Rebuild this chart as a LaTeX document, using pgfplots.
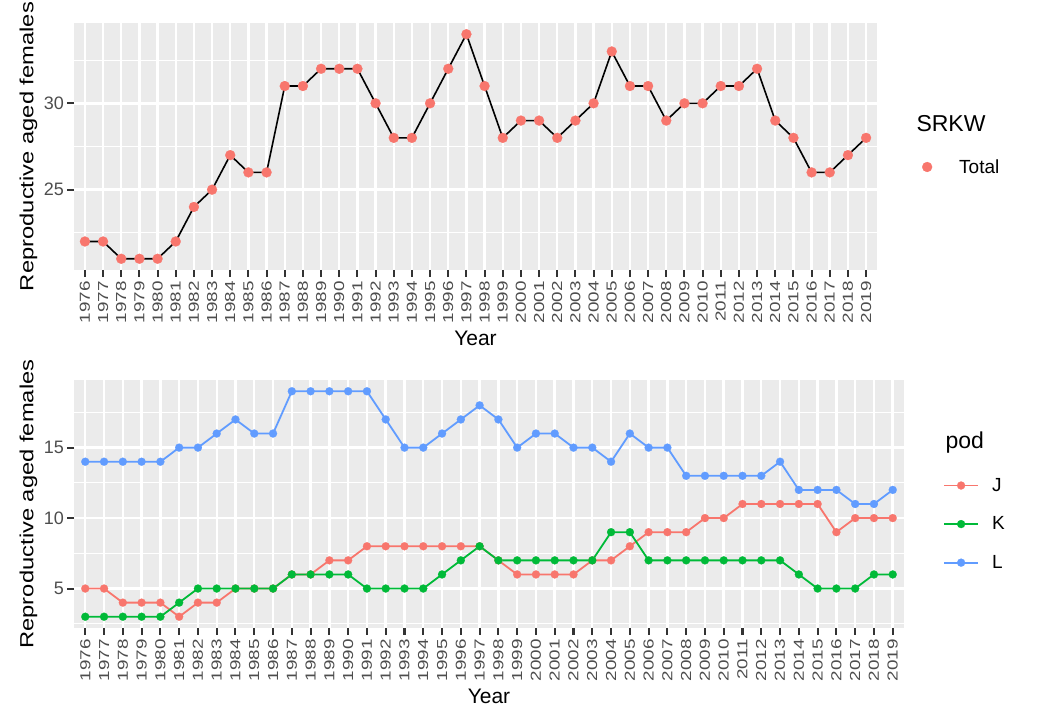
\documentclass[border=0pt]{standalone}
\usepackage{pgfplots}
\usepackage{pgfplotstable}
\pgfplotsset{compat=1.18}
\usepackage{fontspec}
\setmainfont{Liberation Sans}
\newfontfamily\stretchfont[FakeStretch=1.3]{Liberation Sans}
\newfontfamily\labfont[FakeStretch=1.25]{Liberation Sans}
\definecolor{gJ}{HTML}{F8766D}
\definecolor{gK}{HTML}{00BA38}
\definecolor{gL}{HTML}{619CFF}
\definecolor{panel}{HTML}{EBEBEB}
\definecolor{ticklab}{HTML}{4D4D4D}
\definecolor{tickc}{HTML}{333333}

\pgfplotstableread{
year total J K L
1976 22 5 3 14
1977 22 5 3 14
1978 21 4 3 14
1979 21 4 3 14
1980 21 4 3 14
1981 22 3 4 15
1982 24 4 5 15
1983 25 4 5 16
1984 27 5 5 17
1985 26 5 5 16
1986 26 5 5 16
1987 31 6 6 19
1988 31 6 6 19
1989 32 7 6 19
1990 32 7 6 19
1991 32 8 5 19
1992 30 8 5 17
1993 28 8 5 15
1994 28 8 5 15
1995 30 8 6 16
1996 32 8 7 17
1997 34 8 8 18
1998 31 7 7 17
1999 28 6 7 15
2000 29 6 7 16
2001 29 6 7 16
2002 28 6 7 15
2003 29 7 7 15
2004 30 7 9 14
2005 33 8 9 16
2006 31 9 7 15
2007 31 9 7 15
2008 29 9 7 13
2009 30 10 7 13
2010 30 10 7 13
2011 31 11 7 13
2012 31 11 7 13
2013 32 11 7 14
2014 29 11 6 12
2015 28 11 5 12
2016 26 9 5 12
2017 26 10 5 11
2018 27 10 6 11
2019 28 10 6 12
}\srkw

\pgfplotsset{gg/.style={
  scale only axis,
  clip=false,
  axis background/.style={fill=panel},
  axis line style={draw=none},
  xmin=1975.4, xmax=2019.6,
  xtick={1976,...,2019},
  xmajorgrids, ymajorgrids, yminorgrids,
  major grid style={white, line width=2.4pt},
  minor grid style={white, line width=1.1pt},
  tick pos=left,
  tick align=outside,
  major tick length=7pt,
  minor tick length=0pt,
  major tick style={draw=tickc, line width=2pt},
  /pgf/number format/assume math mode=true,
  /pgf/number format/1000 sep={},
  xticklabel style={rotate=90, anchor=east, font=\stretchfont\fontsize{14.5}{14.5}\selectfont, text=ticklab, inner sep=4pt},
  yticklabel style={font=\fontsize{18}{18}\selectfont, text=ticklab, inner sep=3pt},
  xlabel={Year},
  xlabel style={font=\fontsize{21}{21}\selectfont},
  ylabel={Reproductive aged females},
  ylabel style={font=\labfont\fontsize{19}{19}\selectfont},
  legend cell align=left,
}}

\begin{document}
\begin{tikzpicture}
\useasboundingbox (0,0) rectangle (1039pt,711pt);
\begin{axis}[gg,
  at={(74pt,441pt)}, anchor=south west,
  width=803pt, height=247pt,
  ymin=20.35, ymax=34.65,
  ytick={25,30}, minor ytick={22.5,27.5,32.5},
  legend image code/.code={\draw[mark repeat=2,mark phase=2,#1] plot coordinates {(0pt,0pt)(10pt,0pt)(20pt,0pt)};},
  legend style={draw=none, fill=none, at={(1.056,0.417)}, anchor=west, inner sep=0pt,
    nodes={inner sep=0pt}, font=\fontsize{19}{19}\selectfont, column sep=27pt},
]
\pgfplotsinvokeforeach{1976,...,2019}{\draw[tickc, line width=2pt] (axis cs:#1,20.35) -- ([yshift=-7pt]axis cs:#1,20.35);}
\pgfplotsinvokeforeach{25,30}{\draw[tickc, line width=2pt] (axis cs:1975.4,#1) -- ([xshift=-7pt]axis cs:1975.4,#1);}
\addplot[black, line width=1.6pt, mark=*, mark size=5pt, mark options={draw=gJ, fill=gJ, line width=0.2pt}, forget plot] table[x=year, y=total] {\srkw};
\addlegendimage{only marks, mark=*, mark size=5pt, mark options={draw=gJ, fill=gJ, line width=0.2pt}}
\addlegendentry{Total}
\end{axis}
\node[anchor=west, font=\fontsize{23}{23}\selectfont] at (913pt,587pt) {SRKW};

\begin{axis}[gg,
  at={(74pt,83pt)}, anchor=south west,
  width=830pt, height=248pt,
  ymin=2.2, ymax=19.8,
  ytick={5,10,15}, minor ytick={2.5,7.5,12.5,17.5},
  legend image code/.code={\draw[mark repeat=2,mark phase=2,#1] plot coordinates {(0pt,0pt)(17pt,0pt)(34pt,0pt)};},
  legend style={draw=none, fill=none, at={(1.047,0.419)}, anchor=west, inner sep=0pt,
    nodes={inner sep=0pt}, font=\fontsize{19}{19}\selectfont, row sep=24pt, column sep=13pt},
]
\pgfplotsinvokeforeach{1976,...,2019}{\draw[tickc, line width=2pt] (axis cs:#1,2.2) -- ([yshift=-7pt]axis cs:#1,2.2);}
\pgfplotsinvokeforeach{5,10,15}{\draw[tickc, line width=2pt] (axis cs:1975.4,#1) -- ([xshift=-7pt]axis cs:1975.4,#1);}
\addplot[gJ, line width=1.8pt, mark=*, mark size=4pt, mark options={draw=gJ, fill=gJ, line width=0.2pt}] table[x=year, y=J] {\srkw};
\addlegendentry{J}
\addplot[gK, line width=1.8pt, mark=*, mark size=4pt, mark options={draw=gK, fill=gK, line width=0.2pt}] table[x=year, y=K] {\srkw};
\addlegendentry{K}
\addplot[gL, line width=1.8pt, mark=*, mark size=4pt, mark options={draw=gL, fill=gL, line width=0.2pt}] table[x=year, y=L] {\srkw};
\addlegendentry{L}
\end{axis}
\node[anchor=west, font=\fontsize{23}{23}\selectfont] at (942pt,268pt) {pod};
\end{tikzpicture}
\end{document}
